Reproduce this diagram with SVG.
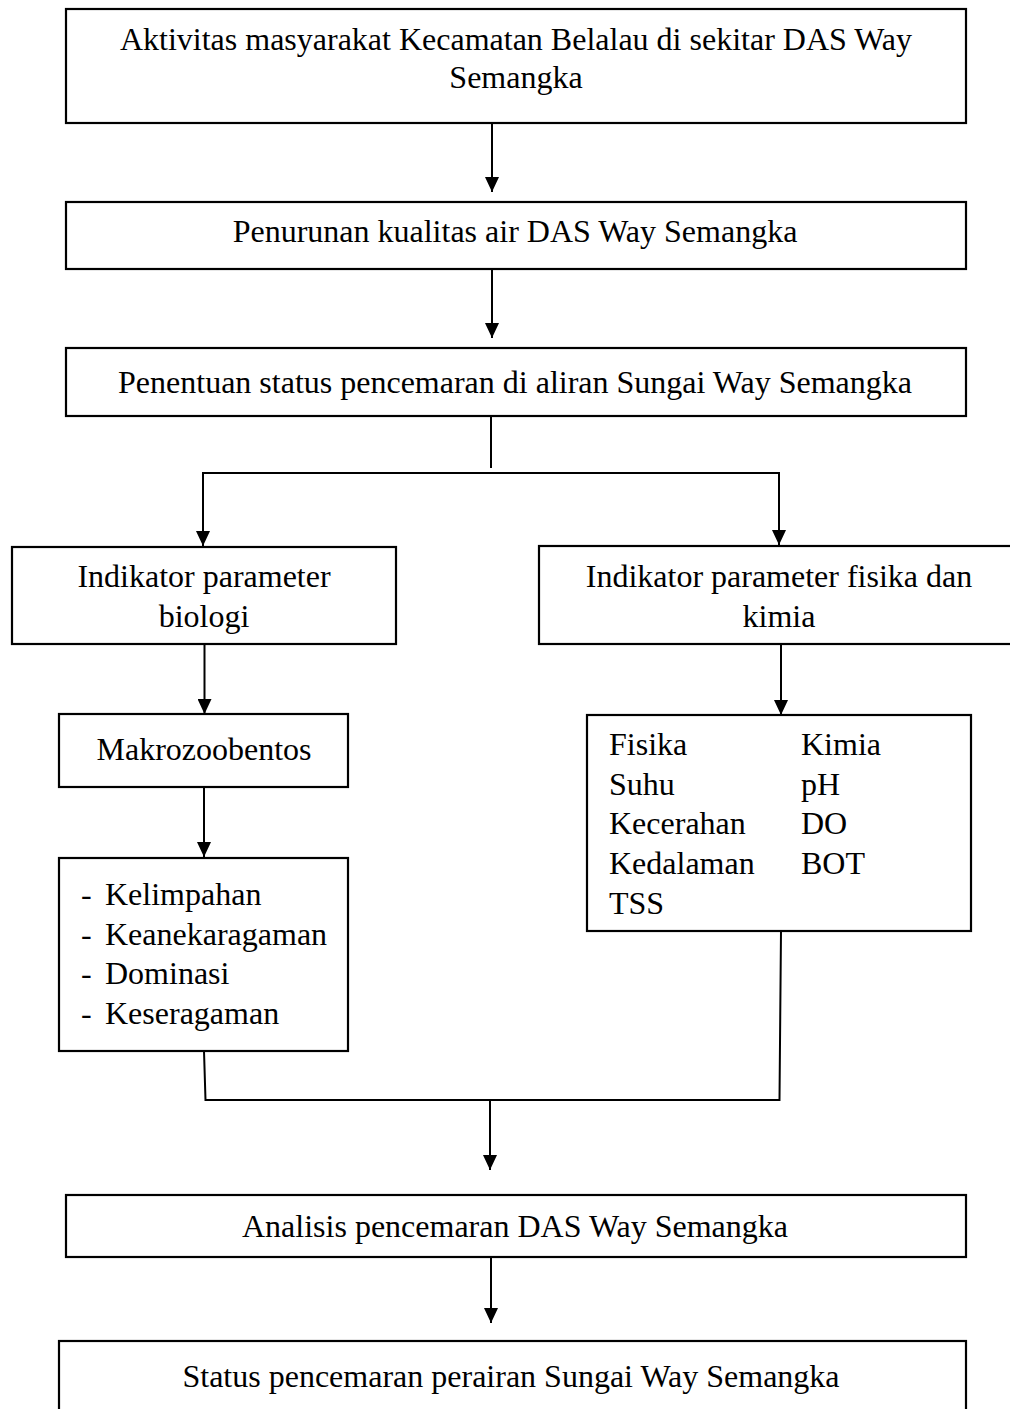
<svg xmlns="http://www.w3.org/2000/svg" width="1010" height="1409" viewBox="0 0 1010 1409">
<style>
.box{fill:#fff;stroke:#000;stroke-width:2.2}
.t{font-family:"Liberation Serif","Times New Roman",serif;font-size:32px;fill:#000}
.c{text-anchor:middle}
.ln{fill:none;stroke:#000;stroke-width:2}
</style>
<defs>
<marker id="ah" markerUnits="userSpaceOnUse" markerWidth="15" markerHeight="14" refX="15" refY="7" orient="auto">
<path d="M0,0 L15,7 L0,14 z" fill="#000"/>
</marker>
</defs>
<rect width="1010" height="1409" fill="#fff"/>
<g id="connectors">
<line class="ln" x1="492" y1="123" x2="492" y2="192" marker-end="url(#ah)"/>
<line class="ln" x1="492" y1="269" x2="492" y2="338" marker-end="url(#ah)"/>
<line class="ln" x1="491" y1="416" x2="491" y2="468"/>
<line class="ln" x1="202" y1="473" x2="780" y2="473"/>
<line class="ln" x1="203" y1="473" x2="203" y2="546" marker-end="url(#ah)"/>
<line class="ln" x1="779" y1="473" x2="779" y2="545" marker-end="url(#ah)"/>
<line class="ln" x1="204.5" y1="644" x2="204.5" y2="714" marker-end="url(#ah)"/>
<line class="ln" x1="781" y1="644" x2="781" y2="715" marker-end="url(#ah)"/>
<line class="ln" x1="204" y1="787" x2="204" y2="857" marker-end="url(#ah)"/>
<polyline class="ln" points="204,1051 205.5,1100 779.5,1100 781,931"/>
<line class="ln" x1="490" y1="1100" x2="490" y2="1170" marker-end="url(#ah)"/>
<line class="ln" x1="491" y1="1257" x2="491" y2="1323" marker-end="url(#ah)"/>
</g>
<g id="n1">
<rect class="box" x="66" y="9" width="900" height="114"/>
<text class="t c" x="516" y="50">Aktivitas masyarakat Kecamatan Belalau di sekitar DAS Way</text>
<text class="t c" x="516" y="88">Semangka</text>
</g>
<g id="n2">
<rect class="box" x="66" y="202" width="900" height="67"/>
<text class="t c" x="515" y="242">Penurunan kualitas air DAS Way Semangka</text>
</g>
<g id="n3">
<rect class="box" x="66" y="348" width="900" height="68"/>
<text class="t c" x="515" y="393">Penentuan status pencemaran di aliran Sungai Way Semangka</text>
</g>
<g id="n4">
<rect class="box" x="12" y="547" width="384" height="97"/>
<text class="t c" x="204" y="587">Indikator parameter</text>
<text class="t c" x="204" y="627">biologi</text>
</g>
<g id="n5">
<rect class="box" x="539" y="546" width="480" height="98"/>
<text class="t c" x="779" y="587">Indikator parameter fisika dan</text>
<text class="t c" x="779" y="627">kimia</text>
</g>
<g id="n6">
<rect class="box" x="59" y="714" width="289" height="73"/>
<text class="t c" x="204" y="760">Makrozoobentos</text>
</g>
<g id="n7">
<rect class="box" x="59" y="858" width="289" height="193"/>
<text class="t" x="81" y="905">-</text><text class="t" x="105" y="905">Kelimpahan</text>
<text class="t" x="81" y="945">-</text><text class="t" x="105" y="945">Keanekaragaman</text>
<text class="t" x="81" y="984">-</text><text class="t" x="105" y="984">Dominasi</text>
<text class="t" x="81" y="1024">-</text><text class="t" x="105" y="1024">Keseragaman</text>
</g>
<g id="n8">
<rect class="box" x="587" y="715" width="384" height="216"/>
<text class="t" x="609" y="755">Fisika</text><text class="t" x="801" y="755">Kimia</text>
<text class="t" x="609" y="795">Suhu</text><text class="t" x="801" y="795">pH</text>
<text class="t" x="609" y="834">Kecerahan</text><text class="t" x="801" y="834">DO</text>
<text class="t" x="609" y="874">Kedalaman</text><text class="t" x="801" y="874">BOT</text>
<text class="t" x="609" y="914">TSS</text>
</g>
<g id="n9">
<rect class="box" x="66" y="1195" width="900" height="62"/>
<text class="t c" x="515" y="1237">Analisis pencemaran DAS Way Semangka</text>
</g>
<g id="n10">
<rect class="box" x="59" y="1341" width="907" height="90"/>
<text class="t c" x="511" y="1387">Status pencemaran perairan Sungai Way Semangka</text>
</g>
</svg>
